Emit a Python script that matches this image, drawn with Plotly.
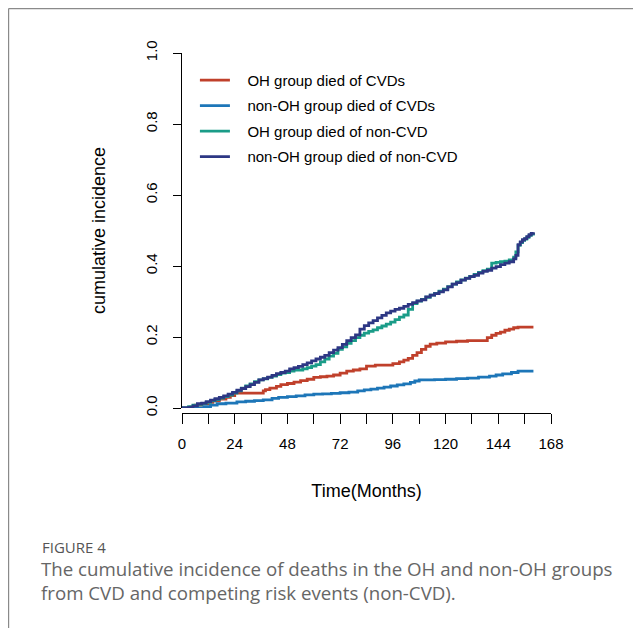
import plotly.graph_objects as go

# Cumulative incidence (step functions), months vs incidence
t_oh_cvd = [0, 4, 6, 9, 12, 14, 17, 20, 22, 24, 37, 38, 40, 43, 45, 48, 51, 54, 57, 60,
            63, 66, 69, 72, 75, 78, 81, 84, 88, 93, 96, 99, 101, 103, 105, 107, 109, 111,
            113, 116, 120, 125, 130, 136, 139, 141, 143, 145, 147, 149, 151, 153, 160]
ci_oh_cvd = [0, 0.003, 0.008, 0.012, 0.016, 0.02, 0.025, 0.03, 0.035, 0.042, 0.048, 0.052,
             0.056, 0.061, 0.066, 0.069, 0.073, 0.077, 0.081, 0.086, 0.088, 0.09, 0.093,
             0.098, 0.104, 0.107, 0.11, 0.118, 0.121, 0.121, 0.125, 0.13, 0.135, 0.14,
             0.148, 0.156, 0.165, 0.174, 0.18, 0.183, 0.186, 0.188, 0.19, 0.19, 0.198,
             0.205, 0.21, 0.214, 0.219, 0.222, 0.226, 0.228, 0.228]

t_non_cvd = [0, 8, 10, 13, 16, 20, 25, 29, 33, 37, 41, 44, 48, 52, 56, 60, 64, 68, 72, 76,
             80, 83, 86, 89, 92, 95, 98, 101, 104, 106, 108, 115, 120, 125, 130, 135, 140,
             143, 146, 150, 153, 160]
ci_non_cvd = [0, 0, 0.004, 0.008, 0.012, 0.014, 0.017, 0.019, 0.021, 0.023, 0.027, 0.03,
              0.032, 0.034, 0.037, 0.039, 0.04, 0.041, 0.043, 0.045, 0.048, 0.051, 0.053,
              0.056, 0.059, 0.062, 0.065, 0.068, 0.072, 0.076, 0.079, 0.08, 0.081, 0.083,
              0.084, 0.087, 0.09, 0.093, 0.096, 0.1, 0.104, 0.104]

t_other = [0, 3, 5, 7, 9, 11, 13, 15, 17, 19, 21, 23, 25, 27, 29, 31, 33, 35, 37, 39, 41,
           43, 45, 47, 49, 51, 53, 55, 57, 59, 61, 63, 65, 67, 69, 71, 73, 75, 77, 79, 81,
           83, 85, 87, 89, 91, 93, 95, 97, 99, 101, 103, 105, 107, 109, 111, 113, 115, 117,
           119, 121, 123, 125, 127, 129, 131, 133, 135, 137, 139, 141, 143, 145, 147, 149,
           151, 152, 153, 154, 155, 156, 157, 158, 159, 160]
ci_oh_other = [0, 0.004, 0.008, 0.01, 0.013, 0.016, 0.02, 0.024, 0.028, 0.032, 0.036, 0.042,
               0.048, 0.056, 0.062, 0.068, 0.074, 0.079, 0.082, 0.086, 0.09, 0.094, 0.098,
               0.1, 0.104, 0.107, 0.107, 0.11, 0.114, 0.118, 0.122, 0.13, 0.138, 0.146,
               0.154, 0.165, 0.172, 0.182, 0.19, 0.198, 0.205, 0.211, 0.216, 0.22, 0.226,
               0.231, 0.236, 0.242, 0.249, 0.256, 0.262, 0.278, 0.294, 0.301, 0.306, 0.312,
               0.318, 0.323, 0.329, 0.335, 0.342, 0.349, 0.355, 0.361, 0.366, 0.371, 0.376,
               0.382, 0.387, 0.391, 0.408, 0.41, 0.412, 0.414, 0.417, 0.425, 0.44, 0.458,
               0.466, 0.472, 0.476, 0.481, 0.486, 0.49, 0.493]
ci_non_other = [0, 0.002, 0.006, 0.012, 0.014, 0.018, 0.022, 0.026, 0.03, 0.034, 0.039,
                0.044, 0.05, 0.055, 0.06, 0.066, 0.072, 0.079, 0.083, 0.087, 0.092, 0.097,
                0.1, 0.104, 0.11, 0.114, 0.117, 0.122, 0.127, 0.133, 0.138, 0.143, 0.148,
                0.156, 0.163, 0.17, 0.179, 0.19, 0.198, 0.206, 0.222, 0.232, 0.24, 0.246,
                0.254, 0.261, 0.268, 0.273, 0.278, 0.281, 0.286, 0.292, 0.297, 0.302, 0.305,
                0.313, 0.318, 0.322, 0.327, 0.333, 0.341, 0.349, 0.353, 0.36, 0.365, 0.37,
                0.374, 0.38, 0.385, 0.388, 0.394, 0.398, 0.404, 0.408, 0.412, 0.42, 0.43,
                0.46, 0.468, 0.474, 0.477, 0.483, 0.488, 0.492, 0.495]

x_ticks = [0, 12, 24, 36, 48, 60, 72, 84, 96, 108, 120, 132, 144, 156, 168]
x_tick_labels = ["0", "", "24", "", "48", "", "72", "", "96", "", "120", "", "144", "", "168"]
y_ticks = [0, 0.2, 0.4, 0.6, 0.8, 1.0]

series = [
    ("OH group died of CVDs", t_oh_cvd, ci_oh_cvd, "#c0402b"),
    ("non-OH group died of CVDs", t_non_cvd, ci_non_cvd, "#1d76b8"),
    ("OH group died of non-CVD", t_other, ci_oh_other, "#1a9c88"),
    ("non-OH group died of non-CVD", t_other, ci_non_other, "#2d3784"),
]

FONT = "Liberation Sans, Arial, sans-serif"
GAP = "\u00a0\u00a0\u00a0"

fig = go.Figure()
for i, (nombre, xs, ys, color) in enumerate(series):
    fig.add_trace(
        go.Scatter(
            x=xs,
            y=ys,
            mode="lines",
            line=dict(color=color, width=2.8, shape="hv"),
            name=GAP + nombre,
            legendgroup=str(i),
        )
    )

# the page body adds an 8px offset, so the figure is 8px smaller than the window
fig.update_layout(
    width=633,
    height=620,
    plot_bgcolor="white",
    paper_bgcolor="white",
    margin=dict(l=174, r=90, t=45, b=215, autoexpand=False),
    font=dict(family=FONT, size=15, color="black"),
    showlegend=True,
    legend=dict(
        x=0.035,
        y=0.97,
        xanchor="left",
        yanchor="top",
        bgcolor="rgba(0,0,0,0)",
        font=dict(size=15),
        tracegroupgap=3,
    ),
    xaxis=dict(
        range=[0, 168],
        anchor="free",
        position=0,
        tickvals=x_ticks,
        ticktext=x_tick_labels,
        ticks="outside",
        ticklen=10,
        tickcolor="black",
        showline=True,
        linecolor="black",
        linewidth=1,
        showgrid=False,
        zeroline=False,
        automargin=False,
        ticklabelstandoff=7,
        title=dict(text="Time(Months)", standoff=33),
    ),
    yaxis=dict(
        range=[0, 1],
        domain=[5 / 360, 1],
        tickvals=y_ticks,
        tickformat=".1f",
        tickangle=-90,
        ticks="outside",
        ticklen=8,
        tickcolor="black",
        showline=True,
        linecolor="black",
        linewidth=1,
        showgrid=False,
        zeroline=False,
        automargin=False,
        ticklabelstandoff=10,
        title=dict(text="cumulative incidence", standoff=32),
    ),
)

# caption
fig.add_annotation(
    text="FIGURE 4",
    xref="paper", yref="paper",
    x=(40 - 182) / 369, y=(413 - 547) / 360,
    xanchor="left", yanchor="middle",
    showarrow=False,
    font=dict(family="Open Sans, sans-serif", size=15, color="#555555"),
)
fig.add_annotation(
    text="The cumulative incidence of deaths in the OH and non-OH groups<br>"
         "from CVD and competing risk events (non-CVD).",
    xref="paper", yref="paper",
    x=(39 - 182) / 369, y=(413 - 580) / 360,
    xanchor="left", yanchor="middle", align="left",
    showarrow=False,
    font=dict(family="Open Sans, sans-serif", size=18.7, color="#666666"),
)

# page frame (top and left edges)
for x0, y0, x1, y1 in [(8.6, 8.6, 641, 8.6), (8.6, 8.6, 8.6, 628)]:
    fig.add_shape(
        type="line", xref="paper", yref="paper",
        x0=(x0 - 182) / 369, y0=(413 - y0) / 360,
        x1=(x1 - 182) / 369, y1=(413 - y1) / 360,
        line=dict(color="#8a8a8a", width=1.2),
    )

fig.write_html("out.html")
